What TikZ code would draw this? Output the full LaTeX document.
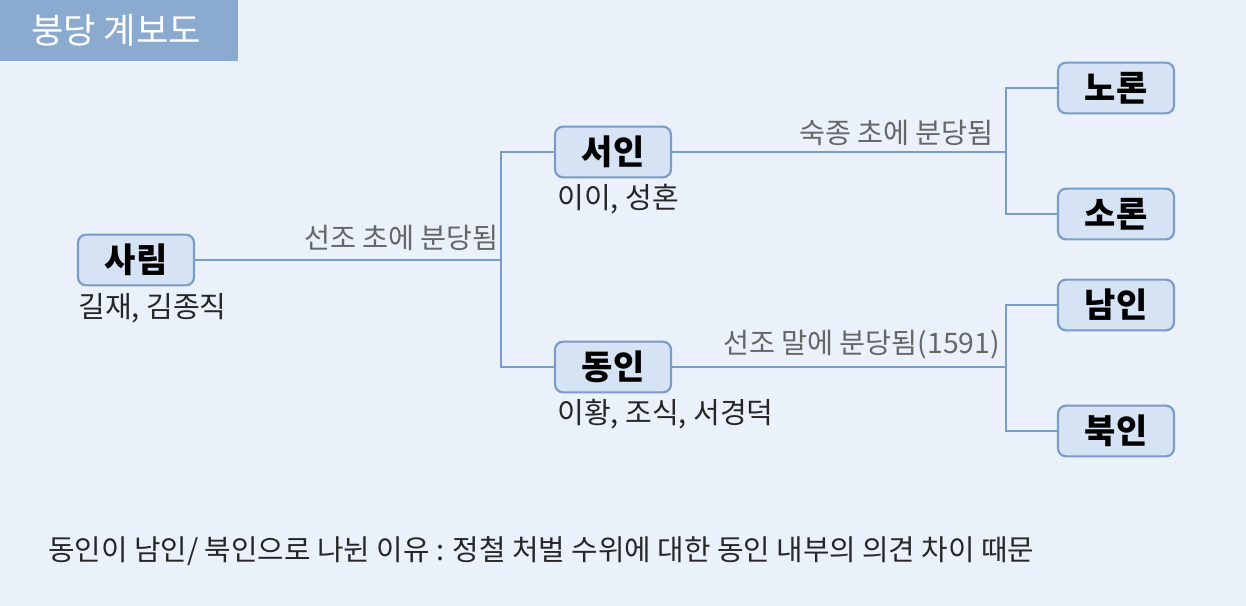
\documentclass[tikz,border=0pt]{standalone}
\usepackage{fontspec}
\setmainfont{Noto Sans CJK KR}
\usepackage{tikz}

\definecolor{bgblue}{HTML}{EAF1FA}
\definecolor{titleblue}{HTML}{8BAACF}
\definecolor{boxfill}{HTML}{D6E3F4}
\definecolor{boxline}{HTML}{7A9CC6}
\definecolor{labgray}{HTML}{666666}

\tikzset{
	party/.style={draw=boxline,fill=boxfill,line width=1.6pt,rounded corners=6pt,
		minimum width=87pt,minimum height=38pt,inner sep=0pt,
		font=\fontsize{25.5}{27}\selectfont\bfseries},
	member/.style={anchor=west,inner sep=0pt,text=black!85,font=\fontsize{21.8}{24}\selectfont},
	split/.style={anchor=south east,inner sep=0pt,text=labgray,font=\fontsize{21.2}{24}\selectfont},
	branch/.style={draw=boxline,line width=1.5pt}
}

\begin{document}
\begin{tikzpicture}[x=0.75pt,y=-0.75pt]
	%background and title
	\fill[bgblue] (0,0) rectangle (1246,606);
	\useasboundingbox (0,0) rectangle (1246,606);
	\fill[titleblue] (0,0) rectangle (238,61);
	\node[text=white,inner sep=0pt,font=\fontsize{26.4}{28}\selectfont] (title) at (116,30) {붕당 계보도};
	
	%parties
	\node[party] (sarim)  at (136,260) {사림};
	\node[party] (seoin)  at (613,152) {서인};
	\node[party] (dongin) at (613,367) {동인};
	\node[party] (noron)  at (1116,88)  {노론};
	\node[party] (soron)  at (1116,214) {소론};
	\node[party] (namin)  at (1116,305) {남인};
	\node[party] (bugin)  at (1116,431) {북인};
	
	%members
	\node[member] (sarimm)  at (78,308)  {길재, 김종직};
	\node[member] (seoinm)  at (557,199) {이이, 성혼};
	\node[member] (donginm) at (557,414) {이황, 조식, 서경덕};
	
	%branches
	\coordinate (j1) at (501,260);
	\coordinate (j2) at (1006,152);
	\coordinate (j3) at (1006,367);
	\draw[branch] (sarim.east) -- (j1) |- (seoin.west);
	\draw[branch] (j1) |- (dongin.west);
	\draw[branch] (seoin.east) -- (j2) |- (noron.west);
	\draw[branch] (j2) |- (soron.west);
	\draw[branch] (dongin.east) -- (j3) |- (namin.west);
	\draw[branch] (j3) |- (bugin.west);
	
	%split labels
	\node[split] (split1) at (499,251) {선조 초에 분당됨};
	\node[split] (split2) at (994,146) {숙종 초에 분당됨};
	\node[split] (split3) at (1000,359) {선조 말에 분당됨(1591)};
	
	%note
	\node[anchor=west,inner sep=0pt,text=black!85,font=\fontsize{21.6}{24}\selectfont] (note) at (48,551)
		{동인이 남인/ 북인으로 나뉜 이유 : 정철 처벌 수위에 대한 동인 내부의 의견 차이 때문};
\end{tikzpicture}
\end{document}
